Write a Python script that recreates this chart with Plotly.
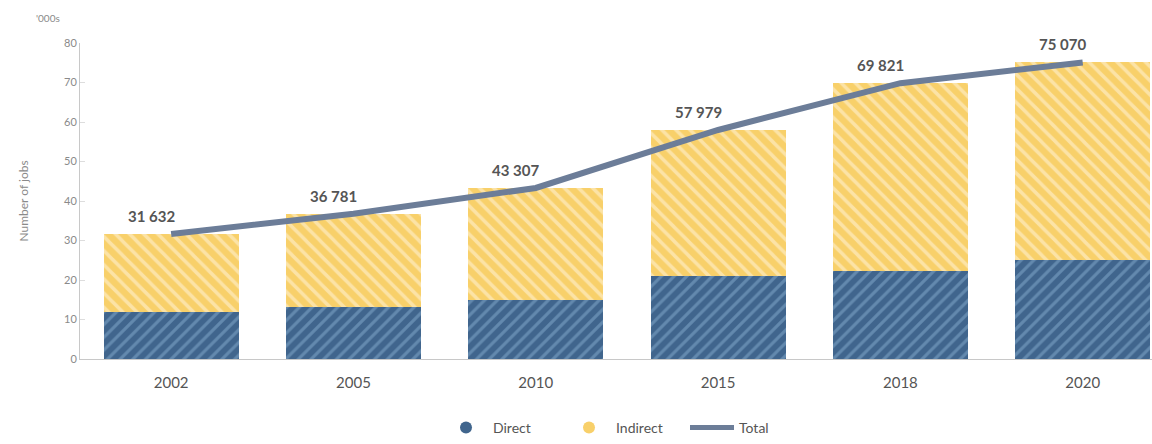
import plotly.graph_objects as go

# Jobs supported ('000s)
years = ["2002", "2005", "2010", "2015", "2018", "2020"]
direct = [12.0, 13.2, 15.0, 21.0, 22.2, 25.0]
total = [31.632, 36.781, 43.307, 57.979, 69.821, 75.070]
indirect = [round(t - d, 3) for t, d in zip(total, direct)]
total_labels = ["31 632", "36 781", "43 307", "57 979", "69 821", "75 070"]
y_ticks = [0, 10, 20, 30, 40, 50, 60, 70, 80]

FONT = "Lato, 'Open Sans', sans-serif"
BLUE = "#40658d"
BLUE_STRIPE = "#6389ae"
YELLOW = "#f8d06a"
YELLOW_STRIPE = "#fce3a6"
LINE = "#6c7d98"

fig = go.Figure()

fig.add_trace(go.Bar(
    x=years, y=direct, name="Direct", showlegend=False,
    marker=dict(color=BLUE, line=dict(width=0),
                pattern=dict(shape="/", bgcolor=BLUE, fgcolor=BLUE_STRIPE,
                             size=9, solidity=0.35, fillmode="replace")),
))
fig.add_trace(go.Bar(
    x=years, y=indirect, name="Indirect", showlegend=False,
    marker=dict(color=YELLOW, line=dict(width=0),
                pattern=dict(shape="\\", bgcolor=YELLOW, fgcolor=YELLOW_STRIPE,
                             size=10, solidity=0.35, fillmode="replace")),
))
fig.add_trace(go.Scatter(
    x=years, y=total, name="Total", mode="lines", showlegend=False,
    line=dict(color=LINE, width=6),
))

# legend entries: round swatches for the bars, a bar for the line
fig.add_trace(go.Scatter(x=[None], y=[None], mode="markers", name="Direct",
                         marker=dict(symbol="circle", size=17, color=BLUE)))
fig.add_trace(go.Scatter(x=[None], y=[None], mode="markers", name="Indirect",
                         marker=dict(symbol="circle", size=17, color=YELLOW)))
fig.add_trace(go.Scatter(x=[None], y=[None], mode="lines", name="Total",
                         line=dict(color=LINE, width=5)))

# total labels above each point (category index positions)
for i, (t, lab) in enumerate(zip(total, total_labels)):
    fig.add_annotation(x=i, y=t, text=f"<b>{lab}</b>", showarrow=False,
                       xshift=-20, yshift=18,
                       font=dict(family=FONT, size=15, color="#555555"))

fig.add_annotation(xref="paper", yref="paper", x=-0.017, y=1.0, yshift=25,
                   text="'000s", showarrow=False, xanchor="right",
                   yanchor="middle",
                   font=dict(family=FONT, size=10, color="#8a8a8a"))

fig.update_layout(
    width=1152, height=444,
    margin=dict(l=80, r=0, t=43, b=81),
    plot_bgcolor="white", paper_bgcolor="white",
    barmode="stack", bargap=0.26,
    font=dict(family=FONT, color="#666666"),
    legend=dict(orientation="h", x=0.507, xanchor="center", y=-0.22,
                yanchor="middle", font=dict(family=FONT, size=14, color="#555555"),
                itemsizing="constant", traceorder="normal", entrywidth=64,
                itemwidth=44),
    xaxis=dict(type="category", range=[-0.5, 5.38], showline=True,
               linecolor="#c8c8c8", linewidth=1, ticks="", showgrid=False,
               ticklabelstandoff=10, automargin=False,
               tickfont=dict(family=FONT, size=15, color="#555555")),
    yaxis=dict(range=[0, 80], tickvals=y_ticks, showline=True,
               linecolor="#c8c8c8", linewidth=1, showgrid=False,
               ticks="inside", ticklen=5, tickcolor="#dddddd",
               zeroline=False, automargin=False,
               tickfont=dict(family=FONT, size=11, color="#8a8a8a"),
               title=dict(text="Number of jobs", standoff=32,
                          font=dict(family=FONT, size=12, color="#8a8a8a"))),
)

fig.write_html("out.html")
